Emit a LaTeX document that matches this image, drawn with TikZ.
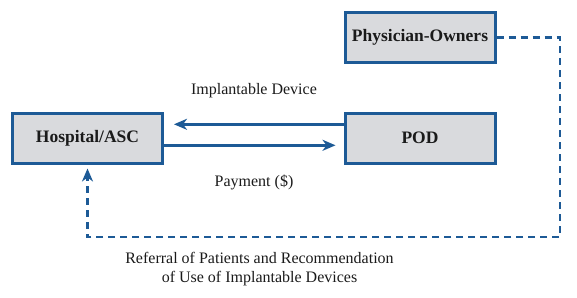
\documentclass[tikz,border=0pt]{standalone}
\usepackage{fontspec}
\setmainfont{Liberation Serif}
\usetikzlibrary{arrows.meta, calc}
\definecolor{pdInk}{HTML}{1A1A1A}
\definecolor{pdBlue}{HTML}{1D5A96}
\definecolor{pdFill}{HTML}{D9DADD}
\tikzset{
  pdbox/.style={
    draw=pdBlue, fill=pdFill, line width=3pt, minimum width=150pt,
    minimum height=50pt, inner sep=0pt, text=pdInk,
    font=\fontsize{17.5}{20}\selectfont\bfseries,
  },
  pdflow/.style={
    -{Stealth[length=13pt, width=11pt, inset=4pt]}, draw=pdBlue,
    line width=2.6pt,
  },
  pdref/.style={
    -{Stealth[length=13pt, width=11pt, inset=4pt]}, draw=pdBlue,
    line width=2.8pt, dash pattern=on 7pt off 5pt,
  },
  pdlabel/.style={
    text=pdInk, inner sep=0pt, align=center,
    font=\fontsize{16}{19.5}\selectfont,
  },
}

\begin{document}
\begin{tikzpicture}[x=1pt, y=-1pt]
\useasboundingbox (0,0) rectangle (577,297);

% Parties -----------------------------------------------------------------
\node[pdbox] (hosp) at (87.5,138) {Hospital/ASC};
\node[pdbox] (pod)  at (420,138)  {POD};
\node[pdbox] (phys) at (420,37.5) {Physician-Owners};

% Flows -------------------------------------------------------------------
\draw[pdflow, shorten >=10pt] ($(pod.west)+(0,-13.7)$) -- ($(hosp.east)+(0,-13.7)$);
\draw[pdflow, shorten >=8pt] ($(hosp.east)+(0,7.3)$) -- ($(pod.west)+(0,7.3)$);
\node[pdlabel] (dev) at (254,91)  {Implantable Device};
\node[pdlabel] (pay) at (254,182) {Payment (\$)};

% Referral loop -----------------------------------------------------------
\coordinate (loop) at (560,237);
\draw[pdref, shorten >=4pt] (phys.east) -| (loop) -| (hosp.south);
\node[pdlabel] (ref) at (259.5,269) {Referral of Patients and Recommendation\\
  of Use of Implantable Devices};

\end{tikzpicture}
\end{document}
